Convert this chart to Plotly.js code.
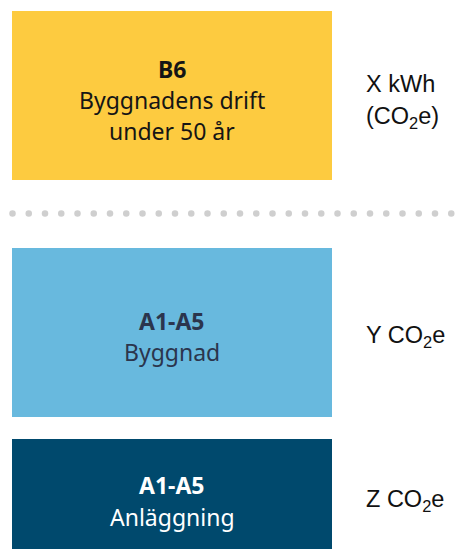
<!DOCTYPE html>
<html>
<head>
<meta charset="utf-8">
<script src="https://cdn.plot.ly/plotly-3.0.1.min.js"></script>
<style>html,body{margin:0;padding:0;background:#fff;}#chart{width:458px;height:549px;}</style>
</head>
<body>
<div id="chart"></div>
<script>
// Data
var stages = ["B6", "A1-A5", "A1-A5"];
var descriptions = [["Byggnadens drift", "under 50 år"], ["Byggnad"], ["Anläggning"]];
var amounts = [["X kWh", "(CO<sub>2</sub>e)"], ["Y CO<sub>2</sub>e"], ["Z CO<sub>2</sub>e"]];
var boxWidth = [320, 320, 320];

// Layout / style (not data)
var boxColors = ["#FDCB40", "#68B9DE", "#00496D"];
var textColors = ["#151515", "#2B354D", "#FFFFFF"];
var boxCenter = [95.5, 332.5, 494.5];
var boxHeight = [169, 169, 111];
var stageY = [69, 321, 485];
var descY = [[100, 131], [352], [517]];
var amountY = [[84, 117], [336], [500]];
var boxLeft = 12, textX = 172, amountX = 364;

var traces = [{
  type: "bar", orientation: "h",
  x: boxWidth, base: [boxLeft, boxLeft, boxLeft],
  y: boxCenter, width: boxHeight,
  marker: {color: boxColors, line: {width: 0}},
  hoverinfo: "skip", showlegend: false
}];

// dotted separator
var dx = [], dy = [];
for (var i = 0; i < 28; i++) { dx.push(12.5 + i * 16.25); dy.push(213.5); }
traces.push({type: "scatter", mode: "markers", x: dx, y: dy,
  marker: {color: "#CFCFCF", size: 6.5}, hoverinfo: "skip", showlegend: false, cliponaxis: true});

var ann = [];
var boxFont = "Noto Sans, sans-serif";
for (var k = 0; k < stages.length; k++) {
  ann.push({x: textX, y: stageY[k], text: "<b>" + stages[k] + "</b>", showarrow: false,
    xanchor: "center", yanchor: "middle", font: {family: boxFont, size: 23, color: textColors[k]}});
  for (var j = 0; j < descriptions[k].length; j++) {
    ann.push({x: textX, y: descY[k][j], text: descriptions[k][j], showarrow: false,
      xanchor: "center", yanchor: "middle", font: {family: boxFont, size: 23, color: textColors[k]}});
  }
  for (var m = 0; m < amounts[k].length; m++) {
    ann.push({x: amountX, y: amountY[k][m], text: amounts[k][m], showarrow: false,
      xanchor: "left", yanchor: "middle", font: {family: "Liberation Sans, Arial, sans-serif", size: 23.5, color: "#111111"}});
  }
}

var layout = {
  width: 458, height: 549,
  margin: {l: 0, r: 0, t: 0, b: 0},
  paper_bgcolor: "#FFFFFF", plot_bgcolor: "#FFFFFF",
  xaxis: {range: [0, 458], visible: false, fixedrange: true},
  yaxis: {range: [549, 0], visible: false, fixedrange: true},
  bargap: 0,
  annotations: ann,
  showlegend: false
};
Plotly.newPlot("chart", traces, layout, {staticPlot: true, displayModeBar: false});
</script>
</body>
</html>
